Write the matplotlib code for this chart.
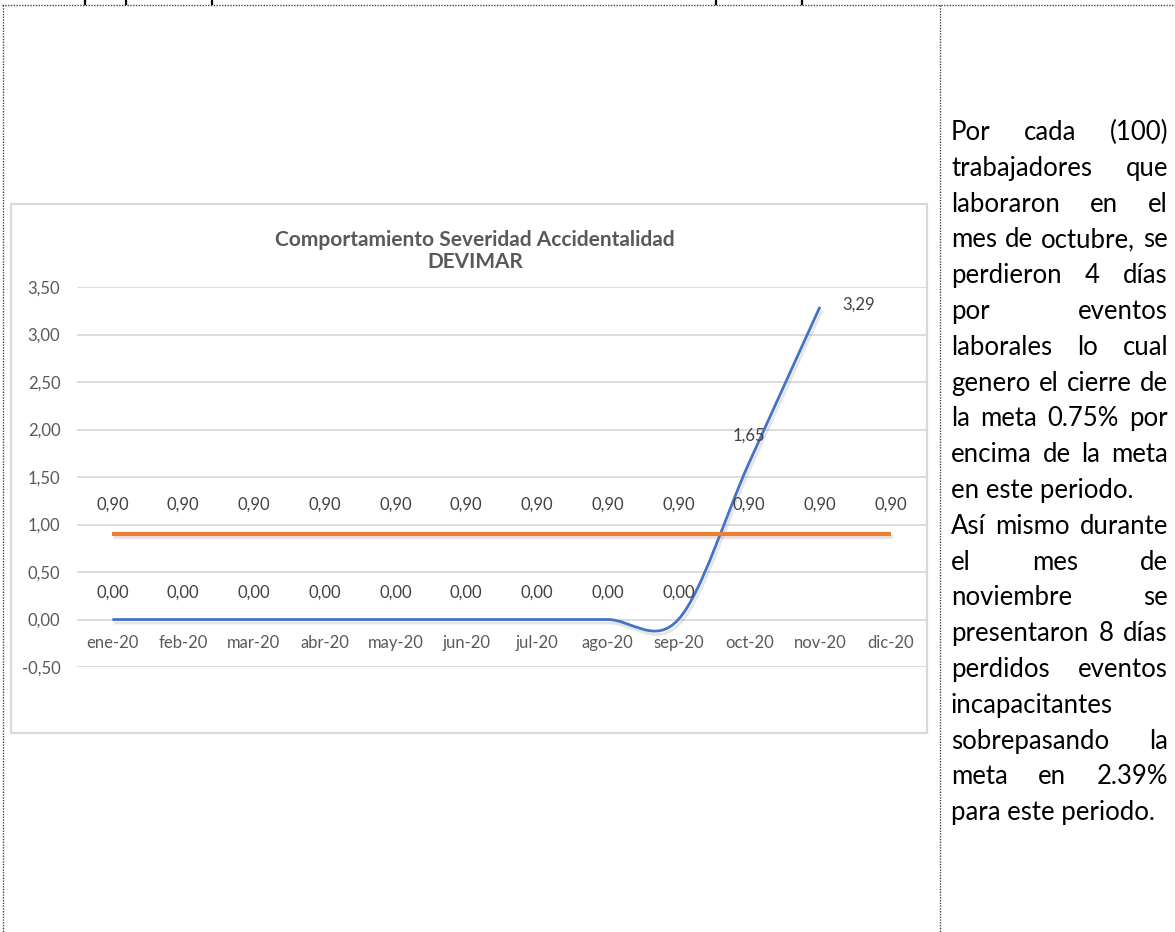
import matplotlib
matplotlib.use('Agg')
import matplotlib.pyplot as plt
import matplotlib.patheffects as pe
from matplotlib.path import Path
from matplotlib.patches import PathPatch, Rectangle
from matplotlib.lines import Line2D
import numpy as np

plt.rcParams['font.family'] = ['Lato', 'DejaVu Sans']

# datos
meses = ['ene-20', 'feb-20', 'mar-20', 'abr-20', 'may-20', 'jun-20',
         'jul-20', 'ago-20', 'sep-20', 'oct-20', 'nov-20', 'dic-20']
severidad = [0.00, 0.00, 0.00, 0.00, 0.00, 0.00, 0.00, 0.00, 0.00, 1.65, 3.29]
meta = [0.90, 0.90, 0.90, 0.90, 0.90, 0.90, 0.90, 0.90, 0.90, 0.90, 0.90, 0.90]
titulo = 'Comportamiento Severidad Accidentalidad\nDEVIMAR'

lineas = ['Por cada (100)', 'trabajadores que', 'laboraron en el',
          'mes de octubre, se', 'perdieron 4 días', 'por eventos',
          'laborales lo cual', 'genero el cierre de', 'la meta 0.75% por',
          'encima de la meta', 'en este periodo.', 'Así mismo durante',
          'el mes de', 'noviembre se', 'presentaron 8 días',
          'perdidos eventos', 'incapacitantes', 'sobrepasando la',
          'meta en 2.39%', 'para este periodo.']
finales = ['en este periodo.', 'para este periodo.']

W, H = 1175, 932
fig = plt.figure(figsize=(W / 100, H / 100), dpi=100)


def fx(px):
    return px / W


def fy(py):
    return 1 - py / H


def coma(v):
    return f'{v:.2f}'.replace('.', ',')


# bordes de la tabla (punteados)
borde = dict(color='#444444', lw=1, linestyle=(0, (1, 1)))
fig.add_artist(Line2D([fx(2.5), fx(2.5)], [fy(5), 0], **borde))
fig.add_artist(Line2D([fx(2), 1], [fy(5), fy(5)], **borde))
fig.add_artist(Line2D([fx(940), fx(940)], [fy(5), 0], **borde))
for px in [85, 126, 212, 716, 802]:
    fig.add_artist(Line2D([fx(px), fx(px)], [1, fy(4)], color='black', lw=1.6))

# marco del grafico
fig.add_artist(Rectangle((fx(11), fy(733)), fx(927) - fx(11), fy(204) - fy(733),
                         fill=False, edgecolor='#D9D9D9', lw=1.6))

ax = fig.add_axes([fx(77), fy(667), fx(926) - fx(77), fy(287) - fy(667)])
ax.set_xlim(-0.5, 11.5)
ax.set_ylim(-0.5, 3.5)
ax.set_yticks(np.arange(-0.5, 3.51, 0.5))
ax.set_yticklabels([coma(v) for v in np.arange(-0.5, 3.51, 0.5)])
ax.set_xticks(range(len(meses)))
ax.set_xticklabels(meses)
ax.grid(axis='y', color='#D9D9D9', lw=1.3)
ax.set_axisbelow(True)
for s in ax.spines.values():
    s.set_visible(False)
ax.spines['bottom'].set_position(('data', 0))
ax.tick_params(axis='y', length=0, pad=12, labelsize=12, labelcolor='#595959')
ax.tick_params(axis='x', length=0, pad=11, labelsize=12, labelcolor='#595959')

sombra = [pe.SimpleLineShadow(offset=(1.5, -2.5), shadow_color='#808080', alpha=0.2),
          pe.Normal()]

# meta
x = np.arange(len(meta))
ax.plot(x, meta, color='#ED7D31', lw=3, solid_capstyle='butt', path_effects=sombra)

# severidad, linea suavizada (bezier a partir de los puntos)
pts = np.column_stack([np.arange(len(severidad)), severidad])
verts = [tuple(pts[0])]
codes = [Path.MOVETO]
n = len(pts)
for i in range(n - 1):
    p0 = pts[i - 1] if i > 0 else pts[i]
    p1, p2 = pts[i], pts[i + 1]
    p3 = pts[i + 2] if i + 2 < n else pts[i + 1]
    c1 = p1 + (p2 - p0) / 6
    c2 = p2 - (p3 - p1) / 6
    verts += [tuple(c1), tuple(c2), tuple(p2)]
    codes += [Path.CURVE4] * 3
curva = PathPatch(Path(verts, codes), fill=False, edgecolor='#4472C4', lw=2,
                  transform=ax.transData, path_effects=sombra)
ax.add_patch(curva)

# etiquetas de datos
etq = dict(textcoords='offset pixels', ha='center', va='center', fontsize=12, color='#404040')
for i, v in enumerate(meta):
    ax.annotate(coma(v), (i, v), xytext=(0, 29), **etq)
for i, v in enumerate(severidad):
    if i == len(severidad) - 1:
        ax.annotate(coma(v), (i, v), xytext=(39, 2), **etq)
    else:
        ax.annotate(coma(v), (i, v), xytext=(0, 27), **etq)

fig.text(fx(475), fy(251), titulo, ha='center', va='center', fontsize=15,
         fontweight='bold', color='#595959', linespacing=1.1)

# texto justificado a la derecha
x0, x1 = 951, 1168
renderer = fig.canvas.get_renderer()
tam = 18.5
for i, linea in enumerate(lineas):
    yb = fy(133 + i * 35.8 + 7)
    palabras = linea.split()
    if linea in finales or len(palabras) == 1:
        fig.text(fx(x0), yb, linea, fontsize=tam, color='black', va='baseline')
        continue
    objs = [fig.text(0, yb, p, fontsize=tam, color='black', va='baseline') for p in palabras]
    anchos = [t.get_window_extent(renderer).width for t in objs]
    hueco = (x1 - x0 - sum(anchos)) / (len(palabras) - 1)
    xp = x0
    for t, a in zip(objs, anchos):
        t.set_x(fx(xp))
        xp += a + hueco

fig.savefig('out.png', dpi=100)
